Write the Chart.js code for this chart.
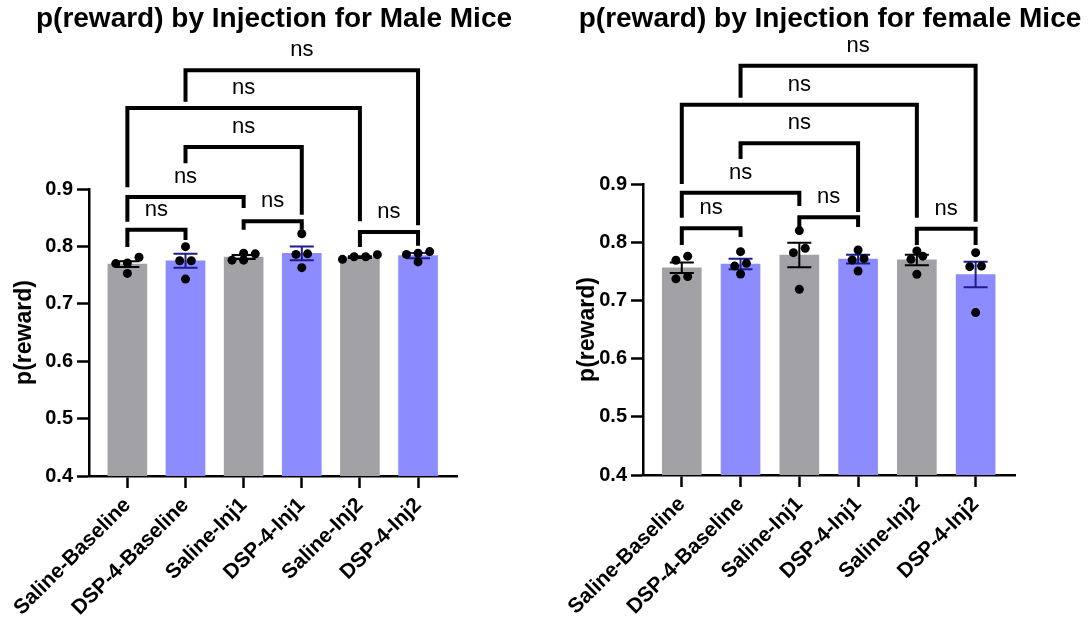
<!DOCTYPE html>
<html>
<head>
<meta charset="utf-8">
<script src="https://cdn.jsdelivr.net/npm/chart.js@4"></script>
<style>
html, body { margin: 0; padding: 0; background: #fff; }
#wrap { position: relative; width: 1088px; height: 625px; overflow: hidden; }
canvas { position: absolute; top: 0; }
</style>
</head>
<body>
<div id="wrap">
  <canvas id="male" width="548" height="625" style="left:0px"></canvas>
  <canvas id="female" width="548" height="625" style="left:540px"></canvas>
</div>
<script>
const categories = ['Saline-Baseline', 'DSP-4-Baseline', 'Saline-Inj1', 'DSP-4-Inj1', 'Saline-Inj2', 'DSP-4-Inj2'];
const yTicks = [0.4, 0.5, 0.6, 0.7, 0.8, 0.9];

// bar heights (mean) and SEM
const maleMeans = [0.769, 0.775, 0.7815, 0.788, 0.7815, 0.784];
const maleSem = [0.005, 0.012, 0.0035, 0.012, 0.0015, 0.0045];
const malePoints = [
    [0.781, 0.771, 0.770, 0.753],
    [0.7995, 0.775, 0.775, 0.743],
    [0.787, 0.788, 0.776, 0.776],
    [0.822, 0.786, 0.787, 0.763],
    [0.7775, 0.7856, 0.782, 0.782],
    [0.791, 0.788, 0.773, 0.786]
];

const femaleMeans = [0.756, 0.7625, 0.778, 0.771, 0.7695, 0.7445];
const femaleSem = [0.009, 0.009, 0.021, 0.0075, 0.009, 0.022];
const femalePoints = [
    [0.769, 0.776, 0.737, 0.741],
    [0.7837, 0.7637, 0.759, 0.7454],
    [0.820, 0.7895, 0.782, 0.719],
    [0.7866, 0.772, 0.7694, 0.7505],
    [0.785, 0.776, 0.7706, 0.745],
    [0.782, 0.759, 0.758, 0.679]
];

// comparisons: [from, to, bracket top, left leg end, right leg end, label]
const maleBrackets = [
    [0, 1, 0.829, 0.799, 0.811, 'ns'],
    [2, 3, 0.844, 0.829, 0.829, 'ns'],
    [0, 2, 0.886, 0.843, 0.867, 'ns'],
    [1, 3, 0.973, 0.945, 0.855, 'ns'],
    [4, 5, 0.825, 0.799, 0.801, 'ns'],
    [0, 4, 1.041, 0.903, 0.844, 'ns'],
    [1, 5, 1.107, 1.052, 0.837, 'ns']
];
const femaleBrackets = [
    [0, 1, 0.824, 0.795, 0.809, 'ns'],
    [2, 3, 0.843, 0.826, 0.826, 'ns'],
    [0, 2, 0.885, 0.842, 0.862, 'ns'],
    [1, 3, 0.970, 0.943, 0.852, 'ns'],
    [4, 5, 0.823, 0.795, 0.795, 'ns'],
    [0, 4, 1.036, 0.900, 0.842, 'ns'],
    [1, 5, 1.103, 1.048, 0.835, 'ns']
];

const grayBar = '#a2a1a6';
const blueBar = '#8c8cff';
const grayErr = '#000000';
const blueErr = '#1c1c8c';
const FONT = "Arial, 'Liberation Sans', sans-serif";

Chart.defaults.color = '#000';
Chart.defaults.font.family = FONT;

// spread points that sit at nearly the same value side by side
function swarm(groups, gapY, gapX) {
    const pts = [];
    groups.forEach((vals, i) => {
        const sorted = vals.slice().sort((a, b) => a - b);
        let row = [];
        const flush = () => {
            row.forEach((v, k) => pts.push({ x: i + (k - (row.length - 1) / 2) * gapX, y: v }));
            row = [];
        };
        sorted.forEach(v => {
            if (row.length && v - row[0] > gapY) flush();
            row.push(v);
        });
        flush();
    });
    return pts;
}

const extrasPlugin = {
    id: 'extras',
    afterDatasetDraw(chart, args, opts) {
        if (args.index !== 0) return;
        const ctx = chart.ctx, x = chart.scales.x, y = chart.scales.y;
        ctx.save();
        ctx.lineWidth = 2;
        opts.means.forEach((m, i) => {
            const cx = x.getPixelForValue(i);
            const hi = y.getPixelForValue(m + opts.sem[i]);
            const lo = y.getPixelForValue(m - opts.sem[i]);
            ctx.strokeStyle = i % 2 === 0 ? grayErr : blueErr;
            ctx.beginPath();
            ctx.moveTo(cx, hi); ctx.lineTo(cx, lo);
            ctx.moveTo(cx - 12, hi); ctx.lineTo(cx + 12, hi);
            ctx.moveTo(cx - 12, lo); ctx.lineTo(cx + 12, lo);
            ctx.stroke();
        });
        ctx.restore();
    },
    afterDraw(chart, args, opts) {
        const ctx = chart.ctx, x = chart.scales.x, y = chart.scales.y;
        ctx.save();
        ctx.strokeStyle = '#000';
        ctx.lineWidth = 4;
        ctx.lineJoin = 'miter';
        ctx.lineCap = 'butt';
        ctx.fillStyle = '#000';
        ctx.font = '22px ' + FONT;
        ctx.textAlign = 'center';
        ctx.textBaseline = 'middle';
        opts.brackets.forEach(b => {
            const x1 = x.getPixelForValue(b[0]), x2 = x.getPixelForValue(b[1]);
            const top = y.getPixelForValue(b[2]);
            ctx.beginPath();
            ctx.moveTo(x1, y.getPixelForValue(b[3]));
            ctx.lineTo(x1, top);
            ctx.lineTo(x2, top);
            ctx.lineTo(x2, y.getPixelForValue(b[4]));
            ctx.stroke();
            ctx.fillText(b[5], (x1 + x2) / 2, top - 20);
        });
        ctx.restore();
    }
};

function makeChart(id, title, means, sem, points, brackets, box) {
    const canvas = document.getElementById(id);
    const W = canvas.width, H = canvas.height;
    return new Chart(canvas, {
        data: {
            datasets: [
                {
                    type: 'bar',
                    data: means.map((m, i) => ({ x: i, y: m })),
                    backgroundColor: means.map((m, i) => i % 2 === 0 ? grayBar : blueBar),
                    barThickness: 39,
                    order: 2
                },
                {
                    type: 'scatter',
                    data: swarm(points, 0.012, 0.2),
                    backgroundColor: '#000',
                    borderWidth: 0,
                    pointRadius: 4.5,
                    order: 1
                }
            ]
        },
        options: {
            responsive: false,
            animation: false,
            devicePixelRatio: 1,
            layout: { padding: { left: box.padLeft, right: 0, top: 0, bottom: 0 } },
            plugins: {
                legend: { display: false },
                tooltip: { enabled: false },
                title: {
                    display: true,
                    text: title,
                    font: { size: 28, weight: 'bold' },
                    padding: { top: 2, bottom: box.top - 2 - 28 * 1.2 }
                },
                extras: { means: means, sem: sem, brackets: brackets }
            },
            scales: {
                x: {
                    type: 'linear',
                    offset: false,
                    min: -0.66,
                    max: categories.length - 0.33,
                    afterBuildTicks: s => { s.ticks = categories.map((c, i) => ({ value: i })); },
                    afterFit: s => {
                        s.height = H - box.bottom;
                        s.paddingLeft = 0;
                        s.paddingRight = 0;
                    },
                    ticks: {
                        autoSkip: false,
                        maxRotation: 45,
                        minRotation: 45,
                        padding: 5,
                        font: { size: 21, weight: 'bold' },
                        callback: v => categories[v]
                    },
                    grid: { offset: false, drawOnChartArea: false, tickLength: 12, tickWidth: 2.5, tickColor: '#000' },
                    border: { color: '#000', width: 2.5 }
                },
                y: {
                    min: yTicks[0],
                    max: yTicks[yTicks.length - 1],
                    afterBuildTicks: s => { s.ticks = yTicks.map(v => ({ value: v })); },
                    afterFit: s => { s.width = box.left - box.padLeft; },
                    ticks: {
                        padding: 4,
                        font: { size: 20, weight: 'bold' },
                        callback: v => v.toFixed(1)
                    },
                    grid: { drawOnChartArea: false, tickLength: 12, tickWidth: 2.5, tickColor: '#000' },
                    border: { color: '#000', width: 2.5 },
                    title: {
                        display: true,
                        text: 'p(reward)',
                        font: { size: 23, weight: 'bold' },
                        padding: { top: box.titlePad, bottom: 0 }
                    }
                },
                // empty right-hand box that keeps the plot narrower than the title
                pad: {
                    position: 'right',
                    display: true,
                    ticks: { display: false },
                    grid: { display: false },
                    border: { display: false },
                    afterFit: s => { s.width = W - box.right; }
                }
            }
        },
        plugins: [extrasPlugin]
    });
}

// box: plot edges in canvas pixels
makeChart('male', 'p(reward) by Injection for Male Mice', maleMeans, maleSem, malePoints, maleBrackets,
    { padLeft: 0, left: 89, right: 457, top: 189, bottom: 476, titlePad: 11 });
makeChart('female', 'p(reward) by Injection for female Mice', femaleMeans, femaleSem, femalePoints, femaleBrackets,
    { padLeft: 32, left: 103, right: 475, top: 184, bottom: 475, titlePad: 1.5 });
</script>
</body>
</html>
